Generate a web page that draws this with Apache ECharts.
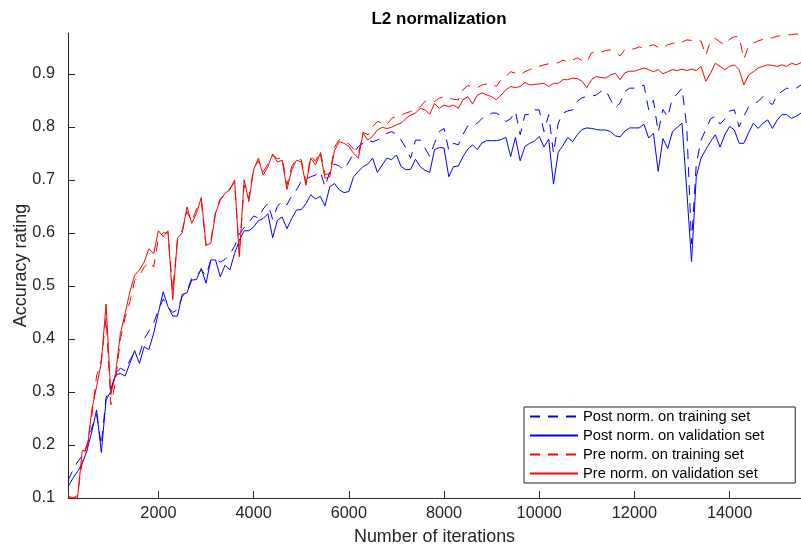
<!DOCTYPE html>
<html>
<head>
<meta charset="utf-8">
<script src="https://cdn.jsdelivr.net/npm/echarts@6/dist/echarts.min.js"></script>
<style>html,body{margin:0;padding:0;background:#fff}#c{width:801px;height:551px}</style>
</head>
<body>
<div id="c"></div>
<script>
// iterations sampled every 100 steps (100 .. 15500)
const iterations = Array.from({length: 155}, (_, i) => (i + 1) * 100);
const xTicks = [2000, 4000, 6000, 8000, 10000, 12000, 14000];
const yTicks = [0.1, 0.2, 0.3, 0.4, 0.5, 0.6, 0.7, 0.8, 0.9];
const seriesNames = ['Post norm. on training set', 'Post norm. on validation set', 'Pre norm. on training set', 'Pre norm. on validation set'];

const postTrain = [
0.133,0.152,0.168,0.18,0.2,0.232,0.258,0.2,0.29,0.305,
0.335,0.345,0.34,0.36,0.375,0.37,0.4,0.415,0.43,0.455,
0.475,0.46,0.45,0.455,0.48,0.49,0.515,0.52,0.53,0.52,
0.548,0.55,0.545,0.55,0.56,0.575,0.598,0.61,0.62,0.632,
0.628,0.645,0.656,0.625,0.65,0.66,0.653,0.67,0.681,0.697,
0.701,0.706,0.709,0.716,0.687,0.716,0.73,0.726,0.719,0.734,
0.75,0.763,0.769,0.775,0.772,0.775,0.781,0.788,0.791,0.786,
0.775,0.76,0.741,0.775,0.775,0.76,0.744,0.769,0.791,0.797,
0.756,0.769,0.766,0.786,0.802,0.801,0.807,0.816,0.82,0.826,
0.826,0.82,0.81,0.815,0.829,0.785,0.823,0.823,0.832,0.832,
0.791,0.823,0.75,0.807,0.826,0.83,0.832,0.848,0.855,0.857,
0.858,0.86,0.867,0.869,0.851,0.836,0.845,0.867,0.873,0.873,
0.875,0.879,0.832,0.85,0.79,0.833,0.818,0.855,0.862,0.873,
0.80,0.58,0.73,0.775,0.795,0.815,0.82,0.805,0.815,0.83,
0.832,0.80,0.82,0.838,0.843,0.848,0.857,0.848,0.842,0.86,
0.867,0.873,0.87,0.873,0.879];

const postVal = [
0.121,0.137,0.15,0.165,0.19,0.225,0.266,0.186,0.285,0.301,
0.332,0.335,0.33,0.354,0.378,0.354,0.385,0.38,0.411,0.45,
0.489,0.461,0.443,0.443,0.484,0.487,0.511,0.512,0.533,0.505,
0.549,0.549,0.517,0.539,0.53,0.561,0.586,0.604,0.604,0.611,
0.623,0.627,0.636,0.591,0.624,0.63,0.608,0.627,0.643,0.644,
0.655,0.672,0.664,0.669,0.651,0.687,0.693,0.681,0.676,0.678,
0.706,0.716,0.725,0.73,0.741,0.714,0.728,0.741,0.738,0.747,
0.725,0.719,0.72,0.739,0.725,0.718,0.714,0.757,0.761,0.76,
0.706,0.725,0.726,0.744,0.758,0.766,0.757,0.77,0.774,0.774,
0.774,0.776,0.78,0.744,0.78,0.736,0.763,0.769,0.773,0.782,
0.762,0.777,0.692,0.752,0.765,0.78,0.772,0.785,0.795,0.798,
0.797,0.795,0.794,0.794,0.791,0.783,0.781,0.792,0.798,0.798,
0.798,0.805,0.779,0.788,0.716,0.778,0.759,0.791,0.799,0.807,
0.68,0.546,0.706,0.741,0.757,0.772,0.785,0.762,0.785,0.801,
0.794,0.769,0.769,0.789,0.807,0.797,0.807,0.813,0.797,0.813,
0.823,0.823,0.816,0.82,0.826];

const preTrain = [
0.1,0.1,0.105,0.17,0.2,0.255,0.33,0.36,0.44,0.276,
0.32,0.4,0.44,0.47,0.51,0.52,0.535,0.545,0.536,0.59,
0.6,0.6,0.49,0.585,0.605,0.64,0.622,0.645,0.66,0.575,
0.585,0.64,0.665,0.67,0.684,0.695,0.56,0.69,0.665,0.722,
0.736,0.715,0.73,0.746,0.74,0.742,0.69,0.725,0.74,0.738,
0.695,0.745,0.735,0.755,0.71,0.712,0.762,0.776,0.772,0.768,
0.758,0.748,0.79,0.785,0.8,0.81,0.807,0.804,0.816,0.82,
0.822,0.826,0.829,0.832,0.838,0.848,0.851,0.848,0.854,0.857,
0.854,0.852,0.851,0.87,0.878,0.876,0.874,0.879,0.881,0.882,
0.876,0.889,0.895,0.904,0.901,0.898,0.904,0.908,0.912,0.914,
0.917,0.919,0.92,0.921,0.926,0.922,0.926,0.93,0.925,0.922,
0.94,0.942,0.941,0.944,0.945,0.94,0.934,0.946,0.947,0.947,
0.951,0.948,0.952,0.955,0.95,0.948,0.955,0.957,0.961,0.96,
0.964,0.963,0.963,0.962,0.935,0.962,0.967,0.96,0.955,0.965,
0.97,0.97,0.928,0.952,0.958,0.962,0.965,0.967,0.968,0.971,
0.972,0.973,0.974,0.975,0.975];

const preVal = [
0.105,0.1,0.1,0.19,0.188,0.266,0.31,0.355,0.466,0.295,
0.335,0.41,0.448,0.489,0.52,0.53,0.545,0.57,0.561,0.604,
0.593,0.604,0.474,0.59,0.6,0.649,0.618,0.637,0.667,0.577,
0.58,0.637,0.662,0.675,0.681,0.7,0.555,0.7,0.659,0.719,
0.741,0.709,0.725,0.749,0.734,0.737,0.682,0.719,0.737,0.734,
0.69,0.741,0.728,0.75,0.703,0.706,0.756,0.772,0.769,0.763,
0.75,0.741,0.788,0.775,0.782,0.794,0.799,0.797,0.799,0.804,
0.807,0.816,0.822,0.826,0.835,0.832,0.824,0.844,0.835,0.841,
0.838,0.841,0.835,0.851,0.857,0.843,0.86,0.864,0.86,0.857,
0.851,0.86,0.87,0.876,0.874,0.876,0.884,0.879,0.88,0.881,
0.882,0.876,0.882,0.882,0.889,0.889,0.892,0.891,0.886,0.874,
0.889,0.895,0.893,0.892,0.898,0.901,0.889,0.902,0.905,0.905,
0.908,0.911,0.908,0.904,0.908,0.9,0.904,0.908,0.906,0.909,
0.906,0.909,0.906,0.914,0.886,0.901,0.92,0.914,0.908,0.914,
0.917,0.908,0.879,0.898,0.904,0.911,0.914,0.917,0.916,0.914,
0.917,0.914,0.92,0.917,0.921];

const seriesColors = ['#0000ff', '#0000ff', '#ff0000', '#ff0000'];
const seriesDashed = [true, false, true, false];

const FONT = '"Liberation Sans", Arial, Helvetica, sans-serif';
const AX = '#262626';
const dash = [10, 8];

function pairs(vals) { return iterations.map((x, i) => [x, vals[i]]); }
function mk(idx, vals) {
  return {
    name: seriesNames[idx], type: 'line', data: pairs(vals), symbol: 'none', showSymbol: false,
    lineStyle: {color: seriesColors[idx], width: 1, type: seriesDashed[idx] ? dash : 'solid'},
    itemStyle: {color: seriesColors[idx]}, animation: false, silent: true
  };
}

const chart = echarts.init(document.getElementById('c'), null, {renderer: 'canvas'});
chart.setOption({
  backgroundColor: '#fff',
  animation: false,
  title: {
    text: 'L2 normalization', left: 434, top: 6, textAlign: 'center',
    textStyle: {fontFamily: FONT, fontSize: 17, fontWeight: 'bold', color: '#000'}
  },
  grid: {left: 68, top: 33, width: 734, height: 465, containLabel: false},
  legend: {
    orient: 'vertical', left: 524, top: 407,
    data: seriesNames,
    itemWidth: 48, itemHeight: 10, itemGap: 0,
    padding: [0, 31, 0, 5],
    backgroundColor: '#fff', borderColor: AX, borderWidth: 1,
    itemStyle: {opacity: 0, borderWidth: 0},
    textStyle: {fontFamily: FONT, fontSize: 14.7, color: '#000', lineHeight: 19},
    selectedMode: false
  },
  xAxis: {
    type: 'value', min: 100, max: 15500,
    name: 'Number of iterations', nameLocation: 'middle', nameGap: 30,
    nameTextStyle: {fontFamily: FONT, fontSize: 17.9, color: AX},
    axisLine: {lineStyle: {color: AX, width: 1}},
    axisTick: {inside: true, length: 7, lineStyle: {color: AX}, customValues: xTicks},
    axisLabel: {fontFamily: FONT, fontSize: 16.3, color: AX, margin: 8, customValues: xTicks,
      formatter: v => String(Math.round(v))},
    splitLine: {show: false}
  },
  yAxis: {
    type: 'value', min: 0.1, max: 0.977,
    name: 'Accuracy rating', nameLocation: 'middle', nameGap: 38, nameRotate: 90,
    nameMoveOverlap: false,
    nameTextStyle: {fontFamily: FONT, fontSize: 17.9, color: AX},
    axisLine: {show: true, lineStyle: {color: AX, width: 1}},
    axisTick: {show: true, inside: true, length: 7, lineStyle: {color: AX}, customValues: yTicks},
    axisLabel: {fontFamily: FONT, fontSize: 16.3, color: AX, margin: 13, customValues: yTicks,
      formatter: v => Number(v).toFixed(1)},
    splitLine: {show: false}
  },
  series: [
    mk(0, postTrain),
    mk(1, postVal),
    mk(2, preTrain),
    mk(3, preVal)
  ]
});
</script>
</body>
</html>
